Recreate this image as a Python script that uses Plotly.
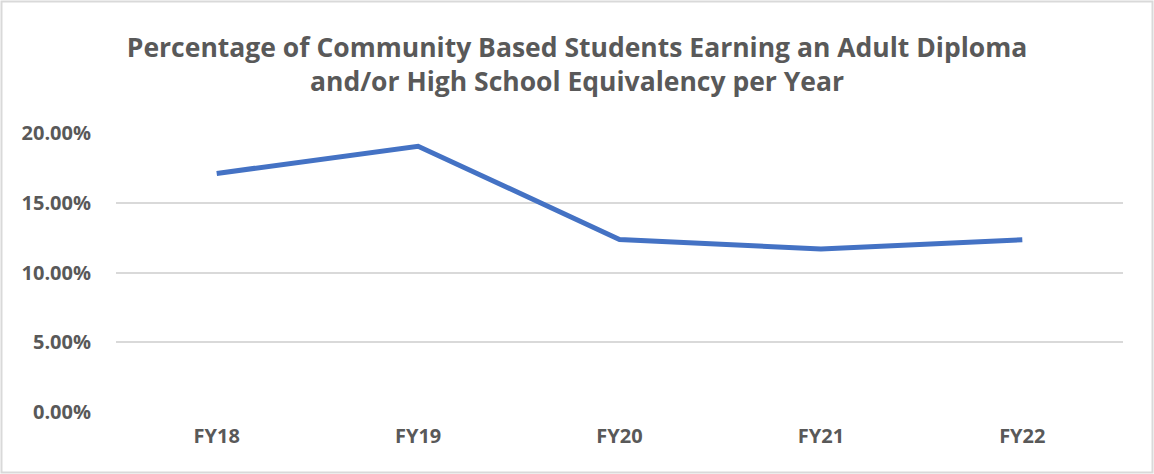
import plotly.graph_objects as go

categories = ["FY18", "FY19", "FY20", "FY21", "FY22"]
values = [0.1710, 0.1905, 0.1237, 0.1168, 0.1235]
y_ticks = [0, 0.05, 0.10, 0.15, 0.20]
y_tick_labels = ["0.00%", "5.00%", "10.00%", "15.00%", "20.00%"]

W, H = 1154, 474
ml, mr, mt, mb = 116, 31, 133, 62
pw, ph = W - ml - mr, H - mt - mb

def px_x(p):
    return (p - ml) / pw

def px_y(p):
    return (H - mb - p) / ph

fig = go.Figure()
fig.add_trace(go.Scatter(
    x=categories, y=values, mode="lines",
    line=dict(color="#4472C4", width=5, shape="linear"),
    showlegend=False, hoverinfo="skip",
))

grey = "#595959"
fig.update_layout(
    width=W, height=H,
    margin=dict(l=ml, r=mr, t=mt, b=mb),
    paper_bgcolor="white", plot_bgcolor="white",
    title=dict(
        text="Percentage of Community Based Students Earning an Adult Diploma<br>and/or High School Equivalency per Year",
        x=0.5, xanchor="center", y=1 - 57 / H, yanchor="middle",
        font=dict(family="Open Sans", size=26.5, color=grey, weight="bold"),
    ),
    xaxis=dict(
        type="category", range=[-0.5, 4.5], showgrid=False, zeroline=False,
        showline=False, ticks="", tickfont=dict(family="Open Sans", size=20, color=grey, weight="bold"),
        ticklabelstandoff=10,
    ),
    yaxis=dict(
        range=[0, 0.2], tickvals=y_ticks, ticktext=y_tick_labels,
        showgrid=True, gridcolor="#D9D9D9", gridwidth=2, zeroline=False,
        showline=False, ticks="", tickfont=dict(family="Open Sans", size=20, color=grey, weight="bold"),
        ticklabelstandoff=24,
    ),
    shapes=[dict(
        type="rect", xref="paper", yref="paper",
        x0=px_x(1.5), x1=px_x(W - 1.5), y0=px_y(H - 1.5), y1=px_y(1.5),
        line=dict(color="#D9D9D9", width=2), fillcolor="rgba(0,0,0,0)", layer="below",
    )],
)

fig.write_html("out.html", config={"displayModeBar": False},
               post_script="document.body.style.margin='0';document.body.style.overflow='hidden';")
